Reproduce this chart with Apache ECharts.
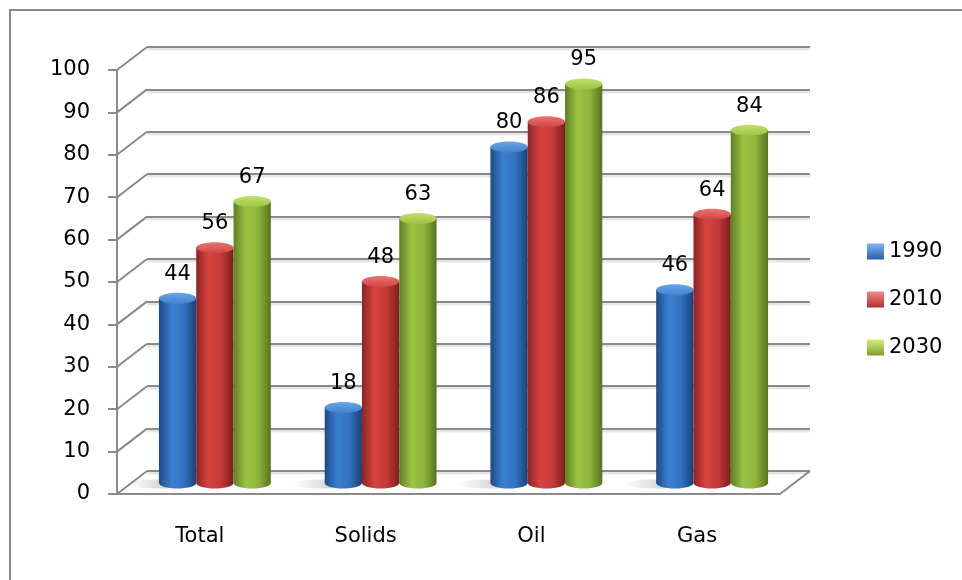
<!DOCTYPE html>
<html>
<head>
<meta charset="utf-8">
<script src="https://cdn.jsdelivr.net/npm/echarts@6/dist/echarts.min.js"></script>
<style>
  html, body { margin: 0; padding: 0; background: #fff; }
  #chart { width: 962px; height: 580px; }
</style>
</head>
<body>
<div id="chart"></div>
<script>
const categories = ['Total', 'Solids', 'Oil', 'Gas'];
const years = ['1990', '2010', '2030'];
const values1990 = [44, 18, 80, 46];
const values2010 = [56, 48, 86, 64];
const values2030 = [67, 63, 95, 84];
const yTicks = [0, 10, 20, 30, 40, 50, 60, 70, 80, 90, 100];

// fake 3d depth of the walls
const DEPTH_X = 30;
const DEPTH_Y = -23;
const FONT = 'DejaVu Sans';
const GRAY = '#8a8a8a';

const palettes = [
  { base: '#2f6db5', body: ['#1d4a85', '#3a7fd0', '#3274c2', '#1a4075'], top: ['#3f82cf', '#6aa6ea'], icon: ['#7fb4f0', '#2a62a8'] },
  { base: '#c0393a', body: ['#8c2424', '#d8433f', '#c33a37', '#7a1e1e'], top: ['#cf4542', '#ec7370'], icon: ['#f08a86', '#b0302e'] },
  { base: '#8cb33b', body: ['#5f7f22', '#9cc443', '#8db43a', '#587320'], top: ['#9cc443', '#c2e06c'], icon: ['#d4f07a', '#7f9f30'] },
];

function grad(cols) {
  return new echarts.graphic.LinearGradient(0, 0, 1, 0,
    cols.map((c, i) => ({ offset: i / (cols.length - 1), color: c })));
}

function cylinder(idx) {
  const pal = palettes[idx];
  return function (params, api) {
    const cat = api.value(0);
    const val = api.value(1);
    const band = api.size([1, 0])[0];
    const w = band * 0.225;
    const top = api.coord([cat, val]);
    const base = api.coord([cat, 0]);
    const cx = top[0] + (idx - 1) * w;
    const rx = w / 2;
    const ry = 5.5;
    const kids = [];
    if (idx === 0) {
      // soft floor shadow to the left of the group
      kids.push({
        type: 'ellipse',
        shape: { cx: cx - rx, cy: base[1] + 1, rx: rx + 14, ry: 4.5 },
        style: { fill: new echarts.graphic.LinearGradient(0, 0, 1, 0, [
          { offset: 0, color: 'rgba(0,0,0,0)' }, { offset: 1, color: 'rgba(0,0,0,0.28)' }]) },
      });
    }
    kids.push(
      {
        type: 'ellipse',
        shape: { cx: cx, cy: base[1], rx: rx, ry: ry },
        style: { fill: grad(pal.body) },
      },
      {
        type: 'rect',
        shape: { x: cx - rx, y: top[1], width: w, height: base[1] - top[1] },
        style: { fill: grad(pal.body) },
      },
      {
        type: 'ellipse',
        shape: { cx: cx, cy: top[1], rx: rx, ry: ry },
        style: { fill: new echarts.graphic.LinearGradient(0, 1, 0, 0, [
          { offset: 0, color: pal.top[0] }, { offset: 1, color: pal.top[1] }]) },
      },
      {
        type: 'text',
        style: {
          text: String(val), x: cx, y: top[1] - 24,
          align: 'center', verticalAlign: 'middle',
          font: '21px "' + FONT + '"', fill: '#000',
        },
      }
    );
    return { type: 'group', children: kids };
  };
}

const seriesValues = [values1990, values2010, values2030];

const option = {
  animation: false,
  backgroundColor: '#fff',
  graphic: [
    {
      type: 'rect', silent: true,
      shape: { x: 10, y: 10, width: 1000, height: 700 },
      style: { fill: 'none', stroke: GRAY, lineWidth: 2 },
    },
  ],
  legend: {
    orient: 'vertical', left: 867, top: 241, padding: 0,
    itemWidth: 17, itemHeight: 16, itemGap: 27,
    icon: 'rect',
    textStyle: { fontFamily: FONT, fontSize: 21, lineHeight: 21, color: '#000' },
    data: years.map((y, i) => ({
      name: y,
      itemStyle: {
        color: new echarts.graphic.LinearGradient(0, 0, 0, 1, [
          { offset: 0, color: palettes[i].icon[0] }, { offset: 1, color: palettes[i].icon[1] }]),
      },
    })),
  },
  grid: [
    { left: 117, top: 70, width: 663, height: 424 },                      // front
    { left: 117 + DEPTH_X / 2, top: 63, width: 663, height: 420 },        // bars
    { left: 117 + DEPTH_X, top: 70 + DEPTH_Y, width: 663, height: 424 },  // back wall
  ],
  xAxis: [
    {
      gridIndex: 0, type: 'category', data: categories,
      axisLine: { lineStyle: { color: GRAY, width: 2 } },
      axisTick: { length: 9, lineStyle: { color: GRAY, width: 2 } },
      axisLabel: { margin: 32, fontFamily: FONT, fontSize: 21, color: '#000' },
    },
    { gridIndex: 1, type: 'category', data: categories, show: false },
    { gridIndex: 2, type: 'category', data: categories, show: false },
  ],
  yAxis: [
    {
      gridIndex: 0, type: 'value', min: 0, max: 100, interval: 10,
      axisLine: { show: true, lineStyle: { color: GRAY, width: 2 } },
      axisTick: { show: true, length: 9, lineStyle: { color: GRAY, width: 2 } },
      axisLabel: { margin: 27, fontFamily: FONT, fontSize: 21, color: '#000', padding: [8, 0, 0, 0] },
      splitLine: { show: false },
    },
    { gridIndex: 1, type: 'value', min: 0, max: 100, interval: 10, show: false, splitLine: { show: false } },
    {
      gridIndex: 2, type: 'value', min: 0, max: 100, interval: 10,
      axisLine: { show: false }, axisTick: { show: false }, axisLabel: { show: false },
      splitLine: { show: true, lineStyle: { color: GRAY, width: 2, shadowColor: 'rgba(0,0,0,0.15)', shadowOffsetY: 2, shadowBlur: 2 } },
    },
  ],
  series: [
    {
      type: 'custom', silent: true, xAxisIndex: 0, yAxisIndex: 0, z: 1, clip: false,
      data: yTicks.map((v) => [0, v]),
      renderItem(params, api) {
        const cs = params.coordSys;
        const v = api.value(1);
        const y = api.coord([0, v])[1];
        const st = { stroke: GRAY, lineWidth: 2 };
        const kids = [{ type: 'line', shape: { x1: cs.x, y1: y, x2: cs.x + DEPTH_X, y2: y + DEPTH_Y }, style: st }];
        if (v === 0) {
          kids.push({ type: 'line', shape: { x1: cs.x + cs.width, y1: y, x2: cs.x + cs.width + DEPTH_X, y2: y + DEPTH_Y }, style: st });
        }
        return { type: 'group', children: kids };
      },
    },
    ...years.map((yr, i) => ({
      name: yr, type: 'custom', xAxisIndex: 1, yAxisIndex: 1, z: 3, clip: false,
      itemStyle: { color: palettes[i].base },
      encode: { x: 0, y: 1 },
      data: seriesValues[i].map((v, c) => [c, v]),
      renderItem: cylinder(i),
    })),
  ],
};

const chart = echarts.init(document.getElementById('chart'));
chart.setOption(option);
</script>
</body>
</html>
